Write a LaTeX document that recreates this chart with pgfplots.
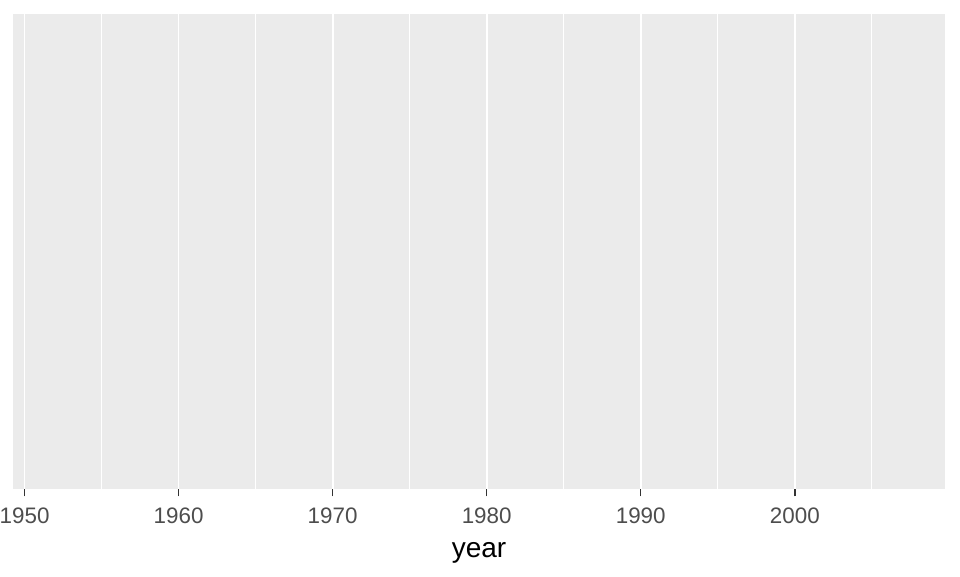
\documentclass[border=0pt]{standalone}
\usepackage{pgfplots}
\pgfplotsset{compat=1.18}
\usepackage{fontspec}
\setmainfont{Liberation Sans}
\definecolor{panelbg}{HTML}{EBEBEB}
\definecolor{ticklab}{HTML}{4D4D4D}
\definecolor{tickcol}{HTML}{333333}
\begin{document}
\begin{tikzpicture}
\useasboundingbox (-9.75pt,-65.25pt) rectangle (710.25pt,366.75pt);
\begin{axis}[
  at={(0,0)}, anchor=south west,
  scale only axis,
  width=699pt, height=356.25pt,
  xmin=1949.25, xmax=2009.75,
  ymin=0, ymax=1,
  axis line style={draw=none},
  axis background/.style={fill=panelbg},
  xtick={1950,1960,1970,1980,1990,2000},
  minor xtick={1955,1965,1975,1985,1995,2005},
  ytick=\empty,
  xmajorgrids, xminorgrids,
  major grid style={white, line width=1.3pt},
  minor grid style={white, line width=0.65pt},
  xtick align=outside,
  major tick length=5.5pt,
  minor tick length=0pt,
  major tick style={tickcol, line width=1.1pt},
  tick pos=bottom,
  /pgf/number format/1000 sep={},
  /pgf/number format/assume math mode=true,
  xticklabel style={font=\fontsize{16.8}{16.8}\selectfont, text=ticklab, anchor=north, inner sep=0pt, yshift=-8.5pt},
  xlabel={year},
  xlabel style={at={(axis description cs:0.5,0)}, anchor=base, inner sep=0pt, yshift=-51.2pt, font=\fontsize{21}{21}\selectfont, text=black},
]
\end{axis}
\end{tikzpicture}
\end{document}
